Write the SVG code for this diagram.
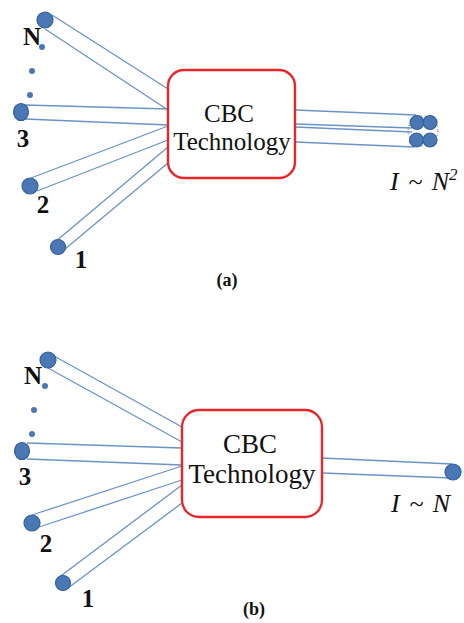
<svg xmlns="http://www.w3.org/2000/svg" width="464" height="623" viewBox="0 0 464 623">
  <style>
    .fiber { stroke: #6c93c4; stroke-width: 1.3; fill: none; }
    .core { fill: #4a78b4; stroke: #36609a; stroke-width: 1.2; }
    .dot { fill: #4a78b4; }
    .box { fill: #ffffff; stroke: #e8262c; stroke-width: 2.4; }
    .boxtext { font-family: "Liberation Serif", "DejaVu Serif", serif; fill: #111; text-anchor: middle; }
    .idx { font-family: "Liberation Serif", "DejaVu Serif", serif; font-weight: bold; font-size: 25px; fill: #111; text-anchor: middle; }
    .law { font-family: "Liberation Serif", "DejaVu Serif", serif; font-style: italic; font-size: 26px; fill: #111; word-spacing: 3px; }
    .cap { font-family: "Liberation Serif", "DejaVu Serif", serif; font-weight: bold; font-size: 18px; fill: #111; text-anchor: middle; }
  </style>
  <rect width="464" height="623" fill="#ffffff"/>

  <!-- Panel (a) -->
  <g id="connectors-a">
    <line class="fiber" x1="52" y1="15" x2="168" y2="89"/>
    <line class="fiber" x1="45" y1="29" x2="168" y2="110"/>
    <line class="fiber" x1="25" y1="105" x2="168" y2="109"/>
    <line class="fiber" x1="25" y1="119" x2="168" y2="125"/>
    <line class="fiber" x1="31" y1="178" x2="168" y2="126"/>
    <line class="fiber" x1="37" y1="191" x2="168" y2="140"/>
    <line class="fiber" x1="55" y1="242" x2="168" y2="147"/>
    <line class="fiber" x1="65" y1="249" x2="168" y2="163"/>
    <line class="fiber" x1="295" y1="110" x2="416" y2="115"/>
    <line class="fiber" x1="295" y1="124" x2="412" y2="128"/>
    <line class="fiber" x1="295" y1="127" x2="412" y2="132"/>
    <line class="fiber" x1="295" y1="142" x2="414" y2="147"/>
  </g>
  <g id="source-a-N">
    <circle class="core" cx="45" cy="20" r="8"/>
    <text class="idx" x="32" y="45">N</text>
  </g>
  <g id="dots-a">
    <circle class="dot" cx="42" cy="47" r="3"/>
    <circle class="dot" cx="32" cy="71" r="3"/>
    <circle class="dot" cx="30" cy="95" r="3"/>
  </g>
  <g id="source-a-3">
    <ellipse class="core" cx="21" cy="112" rx="7.5" ry="8.5"/>
    <text class="idx" x="23" y="147">3</text>
  </g>
  <g id="source-a-2">
    <circle class="core" cx="30" cy="186" r="8"/>
    <text class="idx" x="43" y="213">2</text>
  </g>
  <g id="source-a-1">
    <circle class="core" cx="58" cy="247" r="7.5"/>
    <text class="idx" x="81" y="268">1</text>
  </g>
  <g id="cbc-a">
    <rect class="box" x="168" y="70" width="127" height="108" rx="16"/>
    <text class="boxtext" x="229" y="122" font-size="25">CBC</text>
    <text class="boxtext" x="232" y="150" font-size="25">Technology</text>
  </g>
  <g id="output-a">
    <circle cx="423" cy="131" r="15" fill="none" stroke="#555" stroke-width="1" stroke-dasharray="1 3"/>
    <circle class="core" cx="417" cy="122.5" r="7"/>
    <circle class="core" cx="430" cy="122.5" r="7"/>
    <circle class="core" cx="416.5" cy="140" r="7"/>
    <circle class="core" cx="430" cy="140" r="7"/>
    <text class="law" x="390" y="190">I ~ N<tspan font-size="17" dy="-10">2</tspan></text>
  </g>
  <text class="cap" x="227" y="286">(a)</text>

  <!-- Panel (b) -->
  <g id="connectors-b">
    <line class="fiber" x1="54" y1="356" x2="182" y2="427"/>
    <line class="fiber" x1="48" y1="368" x2="182" y2="442"/>
    <line class="fiber" x1="27" y1="443" x2="182" y2="448"/>
    <line class="fiber" x1="27" y1="459" x2="182" y2="465"/>
    <line class="fiber" x1="32" y1="515" x2="182" y2="466"/>
    <line class="fiber" x1="36" y1="528" x2="182" y2="480"/>
    <line class="fiber" x1="58" y1="578" x2="182" y2="485"/>
    <line class="fiber" x1="68" y1="588" x2="182" y2="503"/>
    <line class="fiber" x1="322" y1="458" x2="452" y2="464"/>
    <line class="fiber" x1="322" y1="473" x2="452" y2="478"/>
  </g>
  <g id="source-b-N">
    <circle class="core" cx="48" cy="360" r="8"/>
    <text class="idx" x="33" y="384">N</text>
  </g>
  <g id="dots-b">
    <circle class="dot" cx="45" cy="386" r="3"/>
    <circle class="dot" cx="34" cy="410" r="3"/>
    <circle class="dot" cx="32" cy="434" r="3"/>
  </g>
  <g id="source-b-3">
    <ellipse class="core" cx="22" cy="451" rx="7.5" ry="8.5"/>
    <text class="idx" x="25" y="485">3</text>
  </g>
  <g id="source-b-2">
    <circle class="core" cx="32" cy="523" r="8"/>
    <text class="idx" x="46" y="552">2</text>
  </g>
  <g id="source-b-1">
    <circle class="core" cx="63" cy="583" r="7.5"/>
    <text class="idx" x="88" y="607">1</text>
  </g>
  <g id="cbc-b">
    <rect class="box" x="182" y="410" width="140" height="107" rx="17"/>
    <text class="boxtext" x="250" y="453" font-size="27">CBC</text>
    <text class="boxtext" x="252" y="483" font-size="27">Technology</text>
  </g>
  <g id="output-b">
    <circle class="core" cx="453" cy="472" r="8"/>
    <text class="law" x="391" y="512">I ~ N</text>
  </g>
  <text class="cap" x="254" y="615">(b)</text>
</svg>
